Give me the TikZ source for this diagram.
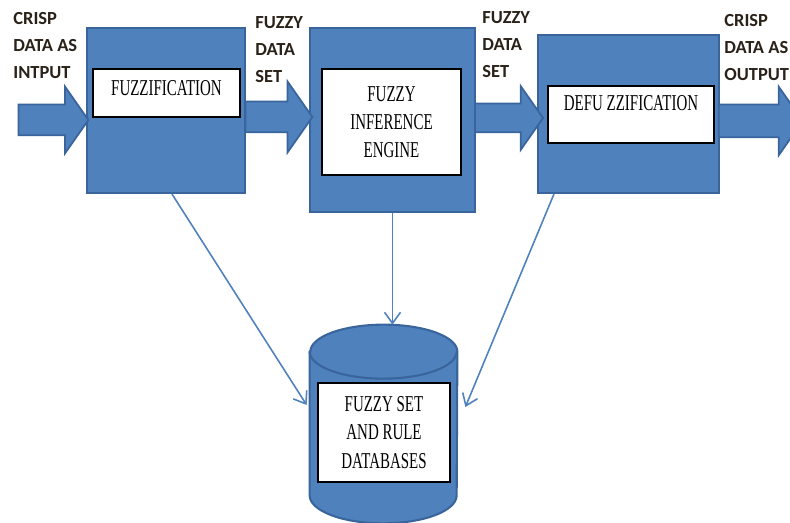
\documentclass[tikz,border=0pt]{standalone}
\usepackage{fontspec}
\usepackage{tikz}
\usetikzlibrary{shapes.geometric, shapes.arrows, arrows.meta}
\setmainfont{Carlito}
\newfontfamily\narrowserif[FakeStretch=0.66]{Liberation Serif}
\definecolor{bluefill}{HTML}{4F81BD}
\definecolor{blueedge}{HTML}{3A659C}
\definecolor{inktext}{HTML}{2A2118}
\tikzstyle{block} = [draw=blueedge, fill=bluefill, line width=1.2pt, inner sep=0pt]
\tikzstyle{inbox} = [draw=black, fill=white, line width=1pt, align=center, inner sep=0pt,
  font=\narrowserif\fontsize{12.9}{16}\selectfont]
\tikzstyle{bigarrow} = [single arrow, draw=blueedge, fill=bluefill, line width=1pt, inner xsep=0pt,
  inner ysep=0.29cm, single arrow head extend=0.36cm, single arrow tip angle=110]
\tikzstyle{iolabel} = [anchor=north west, align=left, inner sep=0pt, text=inktext,
  font=\bfseries\fontsize{10.5}{15.3}\selectfont]
\tikzstyle{link} = [draw=bluefill, line width=0.9pt, -{Straight Barb[length=2.2mm, width=3.2mm]}]
\tikzstyle{drum} = [draw=blueedge, fill=bluefill, line width=1.2pt]

\begin{document}
\begin{tikzpicture}
  \useasboundingbox (0,0) rectangle (15.8,10.46);

  % the three stages
  \node[block, minimum width=3.16cm, minimum height=3.3cm] (fz) at (3.32,8.25) {};
  \node[block, minimum width=3.3cm, minimum height=3.68cm] (ie) at (7.85,8.06) {};
  \node[block, minimum width=3.62cm, minimum height=3.16cm] (dfz) at (12.57,8.18) {};

  \node[inbox, minimum width=2.94cm, minimum height=0.96cm, text depth=0.2cm] (fzt) at (3.33,8.6) {FUZZIFICATION};
  \node[inbox, minimum width=2.78cm, minimum height=2.12cm] (iet) at (7.83,8.02) {FUZZY\\INFERENCE\\ENGINE};
  \node[inbox, minimum width=3.32cm, minimum height=1.14cm, text depth=0.46cm] (dfzt) at (12.62,8.17) {DEFU ZZIFICATION};

  % data flow between the stages
  \node[bigarrow, minimum height=1.4cm] (a1) at (0.96,8.06) {};
  \node[bigarrow, minimum height=1.34cm, single arrow head extend=0.4cm] (a2) at (5.47,8.12) {};
  \node[bigarrow, minimum height=1.36cm, inner ysep=0.27cm, single arrow head extend=0.35cm] (a3) at (10.08,8.1) {};
  \node[bigarrow, minimum height=1.68cm, inner ysep=0.31cm] (a4) at (15.1,8.04) {};

  \node[iolabel] (lin) at (0.26,10.21) {CRISP\\DATA AS\\INTPUT};
  \node[iolabel] (lfz) at (5.1,10.13) {FUZZY\\DATA\\SET};
  \node[iolabel] (lie) at (9.64,10.23) {FUZZY\\DATA\\SET};
  \node[iolabel] (lout) at (14.48,10.17) {CRISP\\DATA AS\\OUTPUT};

  % rule base drum
  \node[minimum width=2.94cm, minimum height=3.96cm, inner sep=0pt] (db) at (7.67,1.98) {};
  \filldraw[drum] ([yshift=-0.54cm]db.north west) -- ([yshift=0.56cm]db.south west)
    arc[start angle=180, end angle=360, x radius=1.47cm, y radius=0.56cm]
    -- ([yshift=-0.54cm]db.north east)
    arc[start angle=0, end angle=180, x radius=1.47cm, y radius=0.54cm] -- cycle;
  \draw[drum, fill=none] ([yshift=-0.54cm]db.north west)
    arc[start angle=180, end angle=360, x radius=1.47cm, y radius=0.54cm];
  \node[inbox, minimum width=2.64cm, minimum height=1.98cm] (dbt) at (7.68,1.81) {FUZZY SET\\AND RULE\\DATABASES};

  \draw[link] ([xshift=0.12cm]fz.south) -- ([xshift=-0.06cm,yshift=0.38cm]db.west);
  \draw[link] (ie.south) -- (ie.south |- db.north);
  \draw[link] ([xshift=0.34cm]dfz.south west) -- ([xshift=0.16cm,yshift=0.34cm]db.east);
\end{tikzpicture}
\end{document}
